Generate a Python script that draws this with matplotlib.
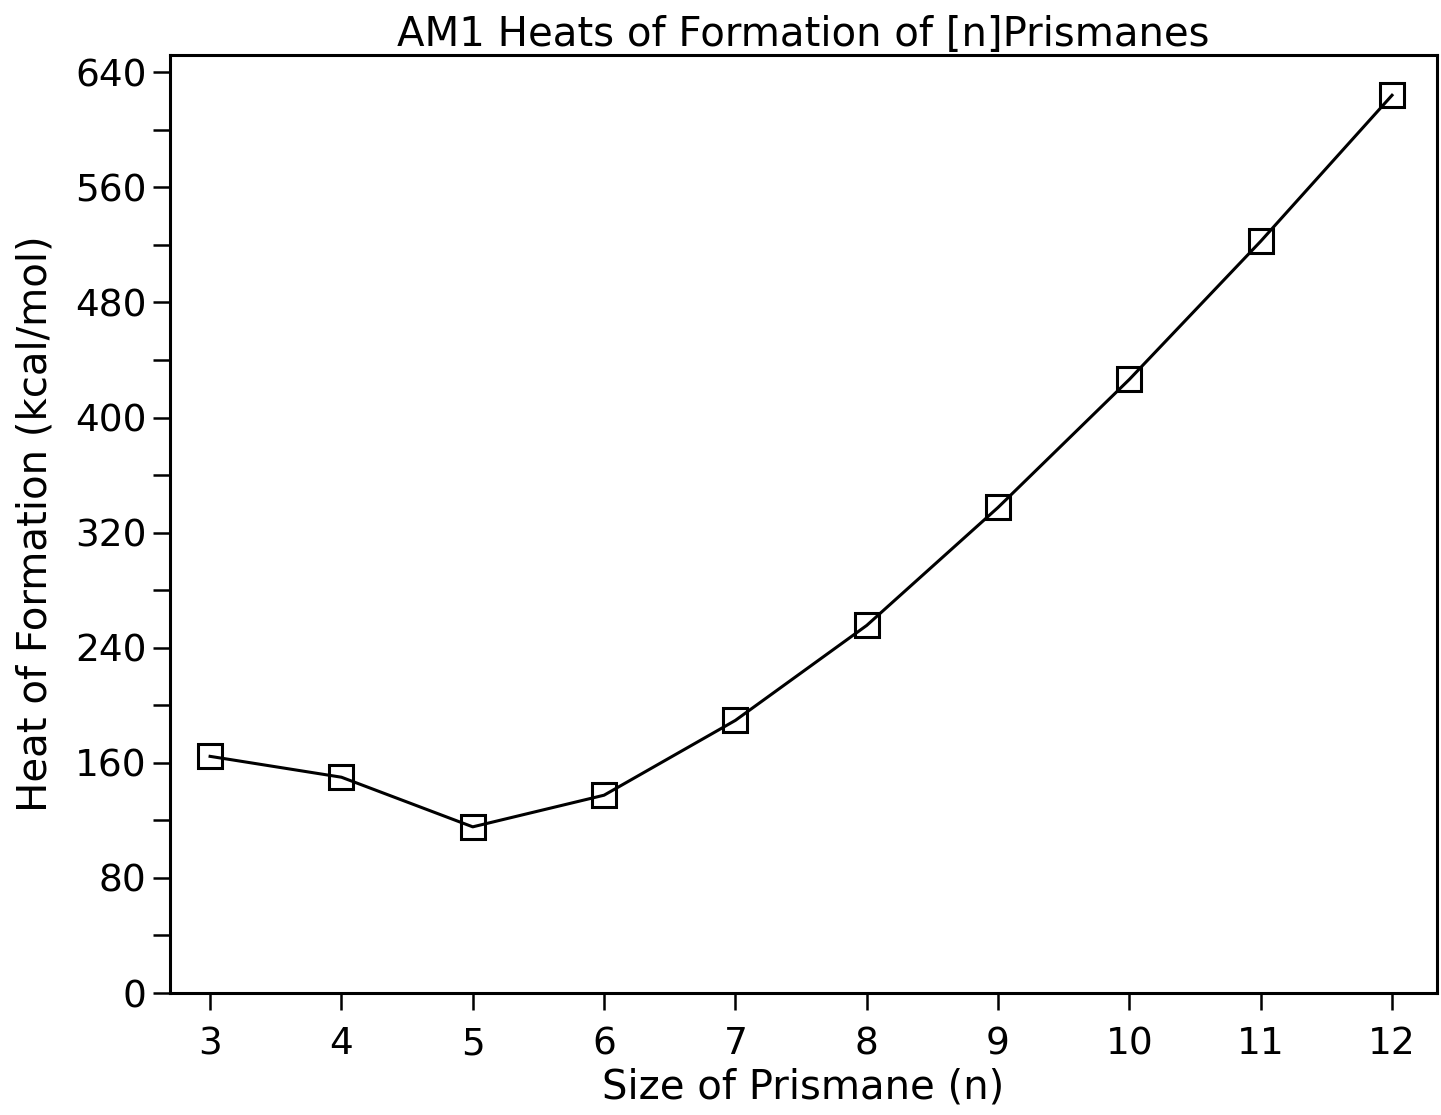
import matplotlib
matplotlib.use("Agg")
import matplotlib.pyplot as plt
from matplotlib.ticker import MultipleLocator

n_values = [3, 4, 5, 6, 7, 8, 9, 10, 11, 12]
heat_formation = [164.5, 150.0, 115.5, 137.5, 189.5, 255.5, 337.5, 426.5, 522.5, 624.0]

title = "AM1 Heats of Formation of [n]Prismanes"
xlabel = "Size of Prismane (n)"
ylabel = "Heat of Formation (kcal/mol)"

plt.rcParams['font.family'] = ['DejaVu Sans']

fig = plt.figure(figsize=(14.41, 11.15), dpi=100)
ax = fig.add_axes([0.118, 0.1094, 0.879, 0.8413])

ax.plot(n_values, heat_formation, color='black', linewidth=2.2,
        marker='s', markersize=17, markerfacecolor='none',
        markeredgecolor='black', markeredgewidth=2.2)

ax.set_xlim(2.695, 12.34)
ax.set_ylim(0, 652)
ax.xaxis.set_major_locator(MultipleLocator(1))
ax.yaxis.set_major_locator(MultipleLocator(80))
ax.yaxis.set_minor_locator(MultipleLocator(40))

for s in ax.spines.values():
    s.set_linewidth(2.2)

ax.tick_params(axis='both', which='both', direction='out', length=12, width=1.8)
ax.tick_params(axis='y', which='major', labelsize=27, pad=5)
ax.tick_params(axis='x', which='major', labelsize=27, pad=12)

ax.set_title(title, fontsize=29, pad=6)
ax.set_xlabel(xlabel, fontsize=29, labelpad=4)
ax.set_ylabel(ylabel, fontsize=29, labelpad=14)

fig.savefig("out.png", dpi=100)
